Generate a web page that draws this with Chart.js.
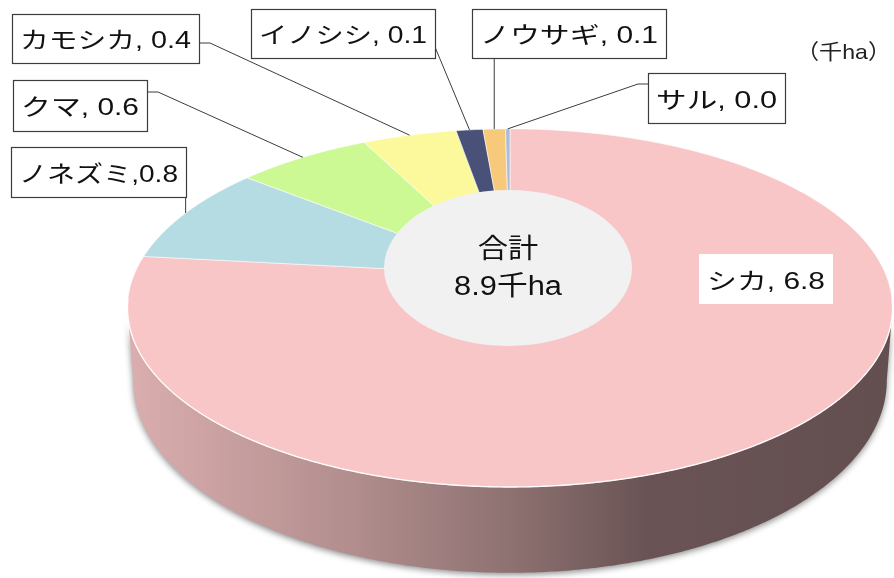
<!DOCTYPE html>
<html>
<head>
<meta charset="utf-8">
<script src="https://cdn.jsdelivr.net/npm/chart.js@4.4.0/dist/chart.umd.min.js"></script>
<style>
  html, body { margin: 0; padding: 0; background: #fff; }
  canvas { display: block; }
</style>
</head>
<body>
<canvas id="pie" width="894" height="578"></canvas>
<script>
// forest damage area by animal (thousand ha)
const categories = ['シカ', 'ノネズミ', 'クマ', 'カモシカ', 'イノシシ', 'ノウサギ', 'サル'];
const areas = [6.80, 0.80, 0.60, 0.42, 0.12, 0.10, 0.02];
const unitText = '（千ha）';
const totalTitle = '合計';
const totalUnit = '千ha';

const sliceColors = ['#f9c6c7', '#b6dce3', '#ccf994', '#fbf99b', '#495178', '#f6c97b', '#aebbd9'];

// label boxes (same order as categories)
const labelBoxes = [
  { x: 699, y: 254, w: 134, h: 50, sep: ', ', border: false },
  { x: 11, y: 147, w: 175, h: 50, sep: ',', leader: 'down' },
  { x: 13, y: 80, w: 134, h: 51, sep: ', ', leader: 'right', ay: 92 },
  { x: 12, y: 14, w: 187, h: 49, sep: ', ', leader: 'right', ay: 43 },
  { x: 251, y: 9, w: 184, h: 49, sep: ', ', leader: 'edge', ay: 47 },
  { x: 472, y: 9, w: 194, h: 49, sep: ', ', leader: 'down' },
  { x: 648, y: 73, w: 137, h: 50, sep: ', ', leader: 'left', ay: 84 }
];

// tilted view of the pie: projected centre, half axes, perspective, thickness
const view = { cx: 510, cy: 275, a: 376, c: 173, k: 0.184, depth: 70, shrink: 0.985 };

const LATIN = '"Liberation Sans", Arial, "Noto Sans CJK JP", sans-serif';

// arc angle (chart.js radians, 0 = 3 o'clock, clockwise) -> screen point
function project(angle, drop) {
  const u = Math.cos(angle), v = -Math.sin(angle);
  const w = 1 + view.k * v;
  let x = view.cx + view.a * u / w;
  let y = view.cy - view.c * v / w;
  if (drop) {
    x = view.cx + (x - view.cx) * view.shrink;
    y += view.depth / w;
  }
  return { x: x, y: y };
}

function shade(hex, f) {
  const n = parseInt(hex.slice(1), 16);
  const r = Math.round(((n >> 16) & 255) * f);
  const g = Math.round(((n >> 8) & 255) * f);
  const b = Math.round((n & 255) * f);
  return 'rgb(' + r + ',' + g + ',' + b + ')';
}

function rimPoints(a0, a1, drop) {
  const pts = [];
  const n = Math.max(2, Math.ceil((a1 - a0) / 0.008));
  for (let i = 0; i <= n; i++) pts.push(project(a0 + (a1 - a0) * i / n, drop));
  return pts;
}

function fitText(ctx, text, cx, baseline, font, scaleX) {
  ctx.save();
  ctx.font = font;
  ctx.translate(cx, baseline);
  ctx.scale(scaleX, 1);
  ctx.textAlign = 'center';
  ctx.textBaseline = 'alphabetic';
  ctx.fillText(text, 0, 0);
  ctx.restore();
}

const pie3d = {
  id: 'pie3d',
  beforeDatasetsDraw(chart) {
    const ctx = chart.ctx;
    const arcs = chart.getDatasetMeta(0).data.map(function(el) {
      return el.getProps(['startAngle', 'endAngle'], true);
    });
    const sideLo = Math.asin(view.k), sideHi = Math.PI - Math.asin(view.k);

    // side wall
    arcs.forEach(function(arc, i) {
      const lo = Math.max(arc.startAngle, sideLo);
      const hi = Math.min(arc.endAngle, sideHi);
      if (hi <= lo) return;
      const top = rimPoints(lo, hi, false);
      const bot = rimPoints(lo, hi, true).reverse();
      const grad = ctx.createLinearGradient(view.cx - view.a * 1.02, 0, view.cx + view.a * 1.02, 0);
      const c = sliceColors[i];
      grad.addColorStop(0, shade(c, 0.88));
      grad.addColorStop(0.3, shade(c, 0.71));
      grad.addColorStop(0.5, shade(c, 0.57));
      grad.addColorStop(0.68, shade(c, 0.42));
      grad.addColorStop(1, shade(c, 0.40));
      ctx.save();
      ctx.beginPath();
      top.concat(bot).forEach(function(p, j) { j ? ctx.lineTo(p.x, p.y) : ctx.moveTo(p.x, p.y); });
      ctx.closePath();
      ctx.shadowColor = 'rgba(0,0,0,0.45)';
      ctx.shadowBlur = 6;
      ctx.shadowOffsetY = 2;
      ctx.fillStyle = grad;
      ctx.fill();
      ctx.restore();
    });

    // top face
    arcs.forEach(function(arc, i) {
      const pts = rimPoints(arc.startAngle, arc.endAngle, false);
      ctx.beginPath();
      ctx.moveTo(view.cx, view.cy);
      pts.forEach(function(p) { ctx.lineTo(p.x, p.y); });
      ctx.closePath();
      ctx.fillStyle = sliceColors[i];
      ctx.fill();
      ctx.strokeStyle = 'rgba(255,255,255,0.55)';
      ctx.lineWidth = 1;
      ctx.stroke();
    });

    // light edge where top meets the wall
    ctx.beginPath();
    rimPoints(sideLo - 0.05, sideHi + 0.05, false).forEach(function(p, j) {
      j ? ctx.lineTo(p.x, p.y) : ctx.moveTo(p.x, p.y);
    });
    ctx.strokeStyle = 'rgba(255,255,255,0.9)';
    ctx.lineWidth = 1.3;
    ctx.stroke();

    // total in the middle
    const total = areas.reduce(function(s, v) { return s + v; }, 0);
    ctx.beginPath();
    ctx.ellipse(508, 268, 124, 78, 0, 0, Math.PI * 2);
    ctx.fillStyle = '#f1f1f1';
    ctx.fill();
    ctx.fillStyle = '#111';
    fitText(ctx, totalTitle, 508, 258, '27px ' + LATIN, 1.12);
    fitText(ctx, total.toFixed(1) + totalUnit, 508, 295, '27px ' + LATIN, 1.14);

    // data labels with leader lines
    arcs.forEach(function(arc, i) {
      const box = labelBoxes[i];
      const rim = project((arc.startAngle + arc.endAngle) / 2, false);
      ctx.strokeStyle = '#3c3c3c';
      ctx.lineWidth = 1;
      if (box.leader) {
        ctx.beginPath();
        if (box.leader === 'right') {
          ctx.moveTo(box.x + box.w, box.ay);
          ctx.lineTo(box.x + box.w + 11, box.ay);
        } else if (box.leader === 'left') {
          ctx.moveTo(box.x, box.ay);
          ctx.lineTo(box.x - 10, box.ay);
        } else if (box.leader === 'edge') {
          ctx.moveTo(box.x + box.w, box.ay);
        } else {
          ctx.moveTo(rim.x, box.y + box.h);
        }
        ctx.lineTo(rim.x, rim.y);
        ctx.stroke();
      }
      ctx.fillStyle = '#fff';
      ctx.fillRect(box.x, box.y, box.w, box.h);
      if (box.border !== false) {
        ctx.strokeStyle = '#3c3c3c';
        ctx.lineWidth = 1.2;
        ctx.strokeRect(box.x + 0.5, box.y + 0.5, box.w, box.h);
      }
      const text = categories[i] + box.sep + areas[i].toFixed(1);
      const font = '23px ' + LATIN;
      ctx.font = font;
      const sx = (box.w - 16) / ctx.measureText(text).width;
      ctx.fillStyle = '#111';
      fitText(ctx, text, box.x + box.w / 2, box.y + box.h / 2 + 9.5, font, sx);
    });

    // unit
    ctx.save();
    ctx.font = '21px ' + LATIN;
    ctx.fillStyle = '#222';
    ctx.translate(891, 59);
    ctx.scale(1.1, 1);
    ctx.textAlign = 'right';
    ctx.textBaseline = 'alphabetic';
    ctx.fillText(unitText, 0, 0);
    ctx.restore();

    return false;
  }
};

new Chart(document.getElementById('pie'), {
  type: 'pie',
  data: {
    labels: categories,
    datasets: [{ data: areas, backgroundColor: sliceColors, borderWidth: 0 }]
  },
  options: {
    responsive: false,
    animation: false,
    events: [],
    plugins: { legend: { display: false }, tooltip: { enabled: false } }
  },
  plugins: [pie3d]
});
</script>
</body>
</html>
